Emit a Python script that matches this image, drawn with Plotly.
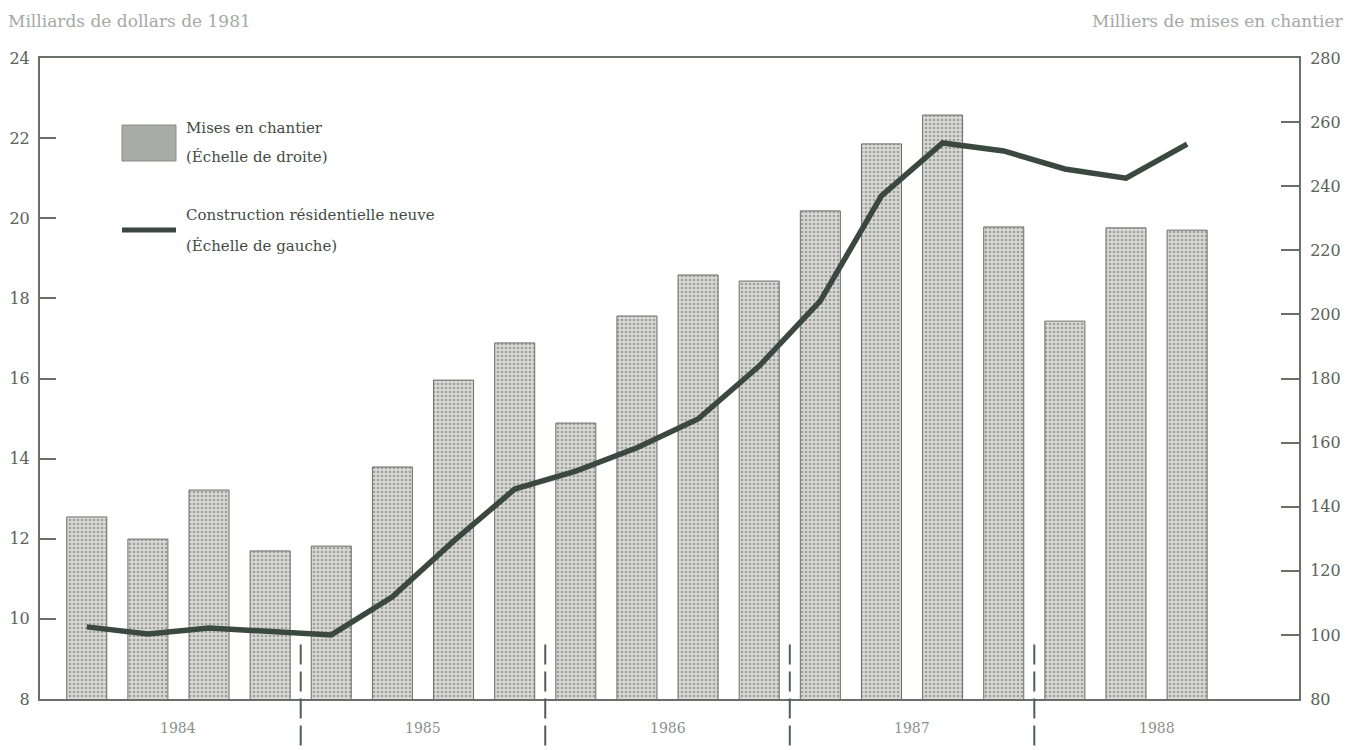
import plotly.graph_objects as go

# Quarterly data, 1984 Q1 - 1988 Q3
quarters = ["1984T1", "1984T2", "1984T3", "1984T4",
            "1985T1", "1985T2", "1985T3", "1985T4",
            "1986T1", "1986T2", "1986T3", "1986T4",
            "1987T1", "1987T2", "1987T3", "1987T4",
            "1988T1", "1988T2", "1988T3"]
x_pos = list(range(1, len(quarters) + 1))

# Mises en chantier (milliers, échelle de droite)
housing_starts = [136.8, 129.9, 145.2, 126.2, 127.7, 152.4, 179.5, 191.1,
                  166.1, 199.5, 212.3, 210.4, 232.3, 253.2, 262.2, 227.3,
                  197.9, 227.0, 226.3]

# Construction résidentielle neuve (milliards de dollars de 1981, échelle de gauche)
residential = [9.80, 9.62, 9.77, 9.70, 9.60, 10.55, 11.94, 13.24,
               13.69, 14.27, 14.99, 16.31, 17.94, 20.56, 21.88, 21.68,
               21.23, 21.00, 21.85]

years = ["1984", "1985", "1986", "1987", "1988"]
year_centers = [2.5, 6.5, 10.5, 14.5, 18.5]
year_breaks = [4.5, 8.5, 12.5, 16.5]

left_ticks = list(range(8, 25, 2))
right_ticks = list(range(80, 281, 20))

FONT = "DejaVu Serif"
FRAME = "#68706a"
LINE_C = "#3b4841"
TEXT_C = "#5a625a"

fig = go.Figure()

fig.add_trace(go.Bar(
    x=x_pos, y=housing_starts, yaxis="y", width=0.655,
    marker=dict(color="#d6d6d2",
                line=dict(color="#6e6e6e", width=1),
                pattern=dict(shape=".", fgcolor="#666666", bgcolor="#d8d8d4",
                             size=4, solidity=0.35)),
    name="Mises en chantier (Échelle de droite)", showlegend=False,
))

fig.add_trace(go.Scatter(
    x=x_pos, y=residential, yaxis="y2", mode="lines",
    line=dict(color=LINE_C, width=5.5),
    name="Construction résidentielle neuve (Échelle de gauche)", showlegend=False,
))

shapes = []
for xb in year_breaks:
    shapes.append(dict(type="line", xref="x", yref="paper", x0=xb, x1=xb,
                       y0=0.085, y1=-0.08,
                       line=dict(color="#555c55", width=2, dash="20px,7px")))

# legend (manual)
shapes.append(dict(type="rect", xref="paper", yref="paper",
                   x0=(122 - 40) / 1259, x1=(176 - 40) / 1259,
                   y0=(698 - 160) / 641, y1=(698 - 124) / 641,
                   fillcolor="#a9aba7", line=dict(color="#8a8c88", width=1)))
shapes.append(dict(type="line", xref="paper", yref="paper",
                   x0=(122 - 40) / 1259, x1=(176 - 40) / 1259,
                   y0=(698 - 229) / 641, y1=(698 - 229) / 641,
                   line=dict(color=LINE_C, width=5)))

annotations = []
for yr, xc in zip(years, year_centers):
    annotations.append(dict(text=yr, x=xc, y=-0.045, xref="x", yref="paper", yanchor="middle",
                            showarrow=False, font=dict(family=FONT, size=14, color="#8a8f8a")))

legend_lines = [("Mises en chantier", 127), ("(Échelle de droite)", 156),
                ("Construction résidentielle neuve", 214), ("(Échelle de gauche)", 245)]
for txt, ypx in legend_lines:
    annotations.append(dict(text=txt, x=(184 - 40) / 1259, y=(698 - ypx) / 641,
                            xref="paper", yref="paper", xanchor="left", yanchor="middle",
                            showarrow=False, font=dict(family=FONT, size=15, color="#434b43")))

annotations.append(dict(text="Milliards de dollars de 1981", x=(6 - 40) / 1259, y=(698 - 20) / 641,
                        xref="paper", yref="paper", xanchor="left", yanchor="middle",
                        showarrow=False, font=dict(family=FONT, size=17, color="#a4a9a4")))
annotations.append(dict(text="Milliers de mises en chantier", x=(1346 - 40) / 1259, y=(698 - 20) / 641,
                        xref="paper", yref="paper", xanchor="right", yanchor="middle",
                        showarrow=False, font=dict(family=FONT, size=17, color="#a4a9a4")))

fig.update_layout(
    width=1348, height=742,
    margin=dict(l=32, r=57, t=50, b=51, autoexpand=False),
    paper_bgcolor="white", plot_bgcolor="white",
    bargap=0.3,
    xaxis=dict(range=[0.235, 20.83], showticklabels=False, ticks="", showgrid=False,
               zeroline=False, showline=True, mirror=True, linecolor=FRAME, linewidth=2,
               automargin=False),
    yaxis=dict(side="right", range=[80, 280], tickvals=right_ticks, ticks="inside",
               ticklen=18, tickwidth=1.5, tickcolor=FRAME, showgrid=False, zeroline=False,
               showline=True, linecolor=FRAME, linewidth=2, ticklabelstandoff=6,
               automargin=False,
               tickfont=dict(family=FONT, size=16, color=TEXT_C)),
    yaxis2=dict(side="left", overlaying="y", range=[8, 24], tickvals=left_ticks, ticks="inside",
                ticklen=16, tickwidth=1.5, tickcolor=FRAME, showgrid=False, zeroline=False,
                showline=True, linecolor=FRAME, linewidth=2, ticklabelstandoff=5,
                automargin=False,
                tickfont=dict(family=FONT, size=16, color=TEXT_C)),
    shapes=shapes,
    annotations=annotations,
    showlegend=False,
)

fig.write_html("out.html")
